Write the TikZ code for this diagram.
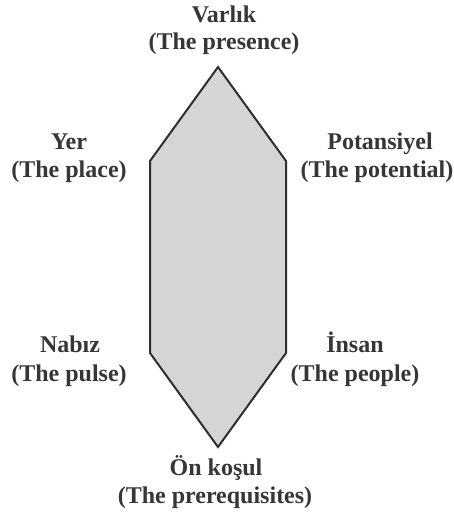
\documentclass[tikz,border=0pt]{standalone}
\usepackage{fontspec}
\setmainfont{Liberation Serif}
\definecolor{txt}{HTML}{363636}
\definecolor{hexfill}{HTML}{D6D4D6}
\definecolor{hexline}{HTML}{2E2E2E}
\tikzset{
  lbl/.style={anchor=base, inner sep=0pt, text=txt, font=\fontsize{24}{28}\selectfont\bfseries},
  hexagon/.style={draw=hexline, fill=hexfill, line width=2pt, line join=miter}
}
\begin{document}
\begin{tikzpicture}[x=1pt,y=-1pt]
\useasboundingbox (0,0) rectangle (454,516);
\coordinate (t) at (218,67);
\coordinate (ur) at (286,161);
\coordinate (lr) at (286,353);
\coordinate (b) at (218,447);
\coordinate (ll) at (150,353);
\coordinate (ul) at (150,161);
\draw[hexagon] (t) -- (ur) -- (lr) -- (b) -- (ll) -- (ul) -- cycle;
\node[lbl] (v1) at (224,23) {Varlık};
\node[lbl] (v2) at (224,50) {(The presence)};
\node[lbl] (y1) at (69,149) {Yer};
\node[lbl] (y2) at (69,177) {(The place)};
\node[lbl] (p1) at (380,149) {Potansiyel};
\node[lbl] (p2) at (377,177) {(The potential)};
\node[lbl] (n1) at (70,352) {Nabız};
\node[lbl] (n2) at (69,381) {(The pulse)};
\node[lbl] (i1) at (355,352) {İnsan};
\node[lbl] (i2) at (355,381) {(The people)};
\node[lbl] (o1) at (216,475) {Ön koşul};
\node[lbl] (o2) at (215,503) {(The prerequisites)};
\end{tikzpicture}
\end{document}
